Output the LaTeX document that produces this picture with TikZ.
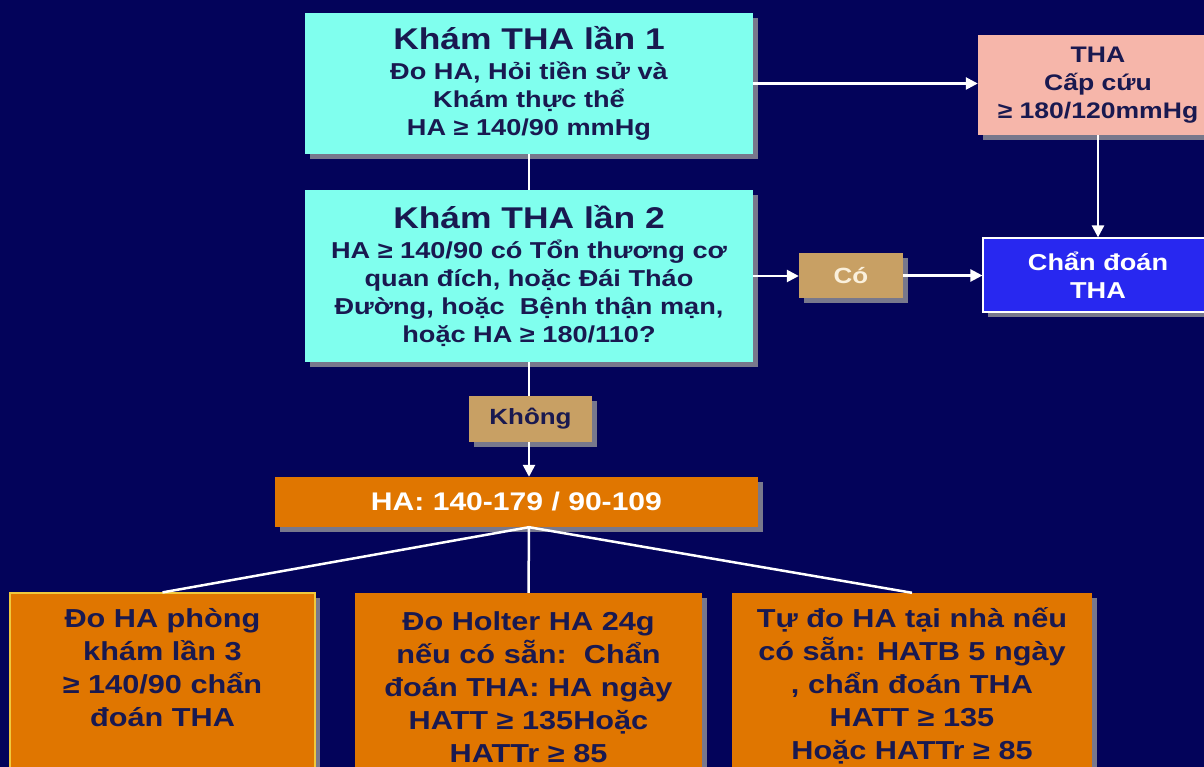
\documentclass[tikz,border=0pt]{standalone}
\usepackage{fontspec}
\setmainfont{Liberation Sans}[FakeStretch=1.18]
\usetikzlibrary{arrows.meta,shadows}
\definecolor{bgc}{RGB}{3,3,90}
\definecolor{cyanc}{RGB}{128,255,238}
\definecolor{txtc}{RGB}{25,25,80}
\definecolor{pinkc}{RGB}{246,182,170}
\definecolor{bluec}{RGB}{40,40,240}
\definecolor{tanc}{RGB}{200,160,100}
\definecolor{orangec}{RGB}{224,118,0}
\definecolor{shadowc}{RGB}{120,120,140}
\definecolor{creamc}{RGB}{250,240,220}
\definecolor{yellowc}{RGB}{240,200,60}
\tikzset{
  box/.style={rectangle, inner sep=0pt, align=center,
    general shadow={fill=shadowc, shadow xshift=5pt, shadow yshift=-5pt}},
  conn/.style={white, line width=2.5pt},
  arr/.style={conn, -{Triangle[length=12pt,width=12pt]}},
  body/.style={font=\bfseries\fontsize{23}{28}\selectfont},
  btext/.style={align=center, inner sep=0pt, text=txtc, anchor=north,
    font=\bfseries\fontsize{26}{33}\selectfont},
  bbox/.style={box, fill=orangec, minimum height=200pt},
}
\begin{document}
\begin{tikzpicture}[x=1pt,y=-1pt]
\useasboundingbox (0,0) rectangle (1204,767);
\clip (0,0) rectangle (1204,767);
\fill[bgc] (0,0) rectangle (1204,767);

\node[box, body, fill=cyanc, text=txtc, minimum width=448pt, minimum height=141pt] (k1) at (529,83.5)
  {{\fontsize{30}{30}\selectfont Khám THA lần 1}\\[2pt]
   Đo HA, Hỏi tiền sử và\\ Khám thực thể\\ HA ≥ 140/90 mmHg};
\node[box, body, fill=cyanc, text=txtc, minimum width=448pt, minimum height=172pt] (k2) at (529,276)
  {{\fontsize{30}{30}\selectfont Khám THA lần 2}\\[2pt]
   HA ≥ 140/90 có Tổn thương cơ\\ quan đích, hoặc Đái Tháo\\ Đường, hoặc\ \ Bệnh thận mạn,\\ hoặc HA ≥ 180/110?};
\node[box, font=\bfseries\fontsize{22.5}{28}\selectfont, fill=pinkc, text=txtc, minimum width=240pt, minimum height=100pt] (cc) at (1098,85)
  {THA\\ Cấp cứu\\ ≥ 180/120mmHg};
\node[box, font=\bfseries\fontsize{23}{28}\selectfont, fill=bluec, draw=white, line width=1.2pt, text=white, minimum width=230pt, minimum height=74pt] (cd) at (1098,275)
  {Chẩn đoán\\ THA};
\node[box, font=\bfseries\fontsize{22}{26}\selectfont, fill=tanc, text=creamc, minimum width=104pt, minimum height=45pt] (co) at (851,275.5) {Có};
\node[box, font=\bfseries\fontsize{22}{26}\selectfont, fill=tanc, text=txtc, minimum width=123pt, minimum height=46pt] (kh) at (530.5,419) {Không};
\node[box, font=\bfseries\fontsize{25.5}{30}\selectfont, fill=orangec, text=white, minimum width=483pt, minimum height=50pt] (ha) at (516.5,502) {HA: 140-179 / 90-109};

\node[bbox, draw=yellowc, line width=1.2pt, minimum width=305pt] (b1) at (162.5,693) {};
\node[bbox, minimum width=347pt] (b2) at (528.5,693) {};
\node[bbox, minimum width=360pt] (b3) at (912,693) {};
\node[btext, yshift=-10pt] (t1) at (b1.north) {\rule{0pt}{25pt}Đo HA phòng\\ khám lần 3\\ ≥ 140/90 chẩn\\ đoán THA};
\node[btext, yshift=-12pt] (t2) at (b2.north) {\rule{0pt}{25pt}Đo Holter HA 24g\\ nếu có sẵn:\ \ Chẩn\\ đoán THA: HA ngày\\ HATT ≥ 135Hoặc\\ HATTr ≥ 85};
\node[btext, yshift=-9pt] (t3) at (b3.north) {\rule{0pt}{25pt}Tự đo HA tại nhà nếu\\ có sẵn: HATB 5 ngày\\ , chẩn đoán THA\\ HATT ≥ 135\\ Hoặc HATTr ≥ 85};

\draw[conn] (k1.south) -- (k2.north);
\draw[arr] (k1.east) -- (k1.east -| cc.west);
\draw[arr] (cc.south) -- (cd.north);
\draw[arr] (k2.east) -- (k2.east -| co.west);
\draw[arr] (co.east) -- (co.east -| cd.west);
\draw[conn] (k2.south) -- (k2.south |- kh.north);
\draw[arr] (kh.south -| k2.south) -- (k2.south |- ha.north);
\coordinate (hab) at (ha.south -| k2.south);
\draw[conn] (hab) -- (b1.north);
\draw[conn] (hab) -- (b2.north);
\draw[conn] (hab) -- (b3.north);
\end{tikzpicture}
\end{document}
